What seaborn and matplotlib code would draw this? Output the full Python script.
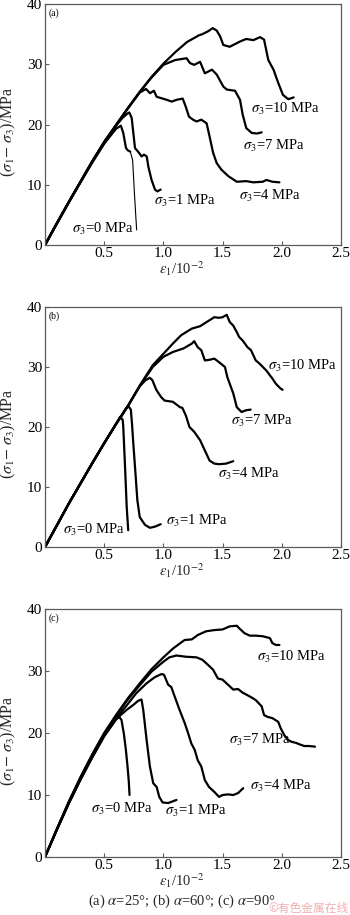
import matplotlib
matplotlib.use("Agg")
import matplotlib.pyplot as plt
import seaborn as sns

# ---------------- data ----------------
X_TICKS = [0, 0.5, 1.0, 1.5, 2.0, 2.5]
X_TICK_LABELS = ["", "0.5", "1.0", "1.5", "2.0", "2.5"]
Y_TICKS = [0, 10, 20, 30, 40]
Y_TICK_LABELS = ["0", "10", "20", "30", "40"]
PANEL_TAGS = ["(a)", "(b)", "(c)"]
CURVE_NAMES = ["0", "1", "4", "7", "10"]
CAPTION = "(a) $\\alpha$=25°; (b) $\\alpha$=60°; (c) $\\alpha$=90°"

# panel (a)  alpha = 25 deg
a_s0_x = [0, 0.1, 0.2, 0.3, 0.4, 0.5, 0.6, 0.641, 0.661, 0.684, 0.70, 0.72, 0.74, 0.757, 0.774]
a_s0_y = [0, 3.5, 7.0, 10.4, 13.7, 16.8, 19.3, 19.8, 18.6, 16.1, 15.7, 15.5, 14.1, 8.0, 2.5]
a_s1_x = [0, 0.1, 0.2, 0.3, 0.4, 0.5, 0.6, 0.65, 0.695, 0.712, 0.732, 0.746, 0.76, 0.794, 0.816,
          0.836, 0.859, 0.873, 0.90, 0.929, 0.949, 0.977]
a_s1_y = [0, 3.6, 7.1, 10.5, 13.9, 17.0, 19.8, 21.0, 21.8, 22.0, 21.1, 18.6, 16.1, 15.3, 14.7,
          15.0, 14.7, 13.0, 10.8, 9.2, 8.9, 9.2]
a_s4_x = [0, 0.1, 0.2, 0.3, 0.4, 0.5, 0.6, 0.7, 0.8, 0.853, 0.887, 0.92, 0.943, 0.977, 1.028,
          1.07, 1.112, 1.163, 1.188, 1.216, 1.25, 1.28, 1.32, 1.365, 1.39, 1.42, 1.45, 1.49,
          1.55, 1.62, 1.70, 1.76, 1.84, 1.87, 1.92, 1.98]
a_s4_y = [0, 3.6, 7.1, 10.5, 13.9, 17.1, 19.9, 22.7, 25.3, 25.9, 25.2, 25.6, 24.6, 24.4, 24.1,
          23.8, 24.1, 24.3, 23.0, 21.3, 20.8, 20.5, 20.8, 20.2, 18.0, 15.3, 13.6, 12.5,
          11.4, 10.5, 10.6, 10.4, 10.5, 10.8, 10.5, 10.4]
a_s7_x = [0, 0.1, 0.2, 0.3, 0.4, 0.5, 0.6, 0.7, 0.8, 0.9, 1.0, 1.1, 1.196, 1.224, 1.26, 1.31,
          1.35, 1.41, 1.45, 1.506, 1.535, 1.605, 1.647, 1.67, 1.70, 1.746, 1.79, 1.83]
a_s7_y = [0, 3.6, 7.1, 10.5, 13.9, 17.1, 19.9, 22.7, 25.4, 27.8, 29.9, 30.7, 31.0, 30.2, 29.9, 30.4,
          28.5, 29.1, 28.3, 26.3, 25.8, 25.6, 24.1, 21.6, 19.4, 18.6, 18.5, 18.7]
a_s10_x = [0, 0.1, 0.2, 0.3, 0.4, 0.5, 0.6, 0.7, 0.8, 0.9, 1.0, 1.1, 1.2, 1.3, 1.33, 1.38, 1.416,
           1.45, 1.48, 1.506, 1.56, 1.60, 1.65, 1.70, 1.76, 1.816, 1.85, 1.886, 1.93, 1.97,
           2.01, 2.055, 2.10]
a_s10_y = [0, 3.6, 7.1, 10.5, 13.9, 17.1, 19.9, 22.7, 25.4, 27.9, 30.1, 32.0, 33.7, 34.8, 35.0, 35.5,
           36.0, 35.6, 34.6, 33.2, 32.9, 33.3, 33.8, 34.2, 34.0, 34.5, 34.1, 30.7, 29.1, 26.9,
           24.9, 24.2, 24.5]

# panel (b)  alpha = 60 deg
b_s0_x = [0, 0.1, 0.2, 0.3, 0.4, 0.5, 0.6, 0.635, 0.656, 0.661, 0.676, 0.69, 0.703]
b_s0_y = [0, 3.6, 7.2, 10.6, 14.0, 17.3, 20.5, 21.7, 21.2, 20.1, 13.4, 6.7, 2.8]
b_s1_x = [0, 0.1, 0.2, 0.3, 0.4, 0.5, 0.6, 0.65, 0.68, 0.703, 0.725, 0.735, 0.745, 0.76, 0.78,
          0.80, 0.844, 0.886, 0.93, 0.977]
b_s1_y = [0, 3.6, 7.2, 10.6, 14.0, 17.3, 20.5, 22.0, 23.0, 23.5, 22.9, 20.5, 17.5, 13.4, 7.8,
          5.0, 3.7, 3.2, 3.4, 3.8]
b_s4_x = [0, 0.1, 0.2, 0.3, 0.4, 0.5, 0.6, 0.7, 0.8, 0.85, 0.885, 0.907, 0.94, 0.98, 1.01, 1.08,
          1.14, 1.16, 1.19, 1.22, 1.26, 1.31, 1.35, 1.39, 1.43, 1.47, 1.53, 1.59]
b_s4_y = [0, 3.6, 7.2, 10.6, 14.0, 17.3, 20.5, 23.5, 26.8, 27.8, 28.2, 27.8, 26.2, 25.0, 24.4, 24.2,
          23.3, 23.2, 21.9, 20.0, 19.2, 17.8, 16.1, 14.4, 13.9, 13.8, 13.9, 14.3]
b_s7_x = [0, 0.1, 0.2, 0.3, 0.4, 0.5, 0.6, 0.7, 0.8, 0.91, 1.0, 1.08, 1.17, 1.24, 1.26, 1.29,
          1.32, 1.35, 1.39, 1.43, 1.47, 1.52, 1.54, 1.59, 1.62, 1.66, 1.70, 1.737]
b_s7_y = [0, 3.6, 7.2, 10.6, 14.0, 17.3, 20.5, 23.5, 26.8, 30.0, 31.7, 32.5, 33.1, 33.9, 34.3, 33.3,
          32.8, 31.1, 31.2, 31.4, 30.8, 30.0, 28.3, 25.6, 23.3, 22.5, 22.8, 22.9]
b_s10_x = [0, 0.1, 0.2, 0.3, 0.4, 0.5, 0.6, 0.7, 0.8, 0.91, 1.0, 1.08, 1.15, 1.24, 1.31, 1.39,
           1.43, 1.47, 1.50, 1.535, 1.56, 1.59, 1.62, 1.64, 1.67, 1.71, 1.74, 1.78, 1.81, 1.84,
           1.87, 1.90, 1.92, 1.95, 1.99, 2.007]
b_s10_y = [0, 3.6, 7.2, 10.6, 14.0, 17.3, 20.5, 23.5, 26.9, 30.3, 32.2, 33.9, 35.3, 36.4, 36.8, 37.8,
           38.3, 38.2, 38.3, 38.7, 37.5, 36.9, 35.8, 35.0, 34.4, 33.3, 32.8, 31.1, 30.6, 30.0,
           29.4, 28.6, 28.1, 27.2, 26.4, 26.2]

# panel (c)  alpha = 90 deg
c_s0_x = [0, 0.1, 0.2, 0.3, 0.4, 0.5, 0.6, 0.627, 0.646, 0.666, 0.683, 0.697, 0.708, 0.714]
c_s0_y = [0, 4.4, 8.6, 12.5, 16.1, 19.5, 22.2, 22.6, 22.1, 19.9, 17.3, 14.6, 12.1, 10.0]
c_s1_x = [0, 0.1, 0.2, 0.3, 0.4, 0.5, 0.6, 0.627, 0.688, 0.744, 0.787, 0.815, 0.83, 0.858, 0.886,
          0.914, 0.943, 0.965, 0.993, 1.04, 1.11]
c_s1_y = [0, 4.4, 8.6, 12.5, 16.1, 19.5, 22.2, 22.7, 23.7, 24.5, 25.2, 25.4, 23.7, 18.9, 14.6,
          11.9, 11.3, 9.7, 8.8, 8.7, 9.2]
c_s4_x = [0, 0.1, 0.2, 0.3, 0.4, 0.5, 0.6, 0.688, 0.77, 0.857, 0.927, 0.983, 1.005, 1.04, 1.067,
          1.095, 1.137, 1.18, 1.21, 1.236, 1.264, 1.29, 1.32, 1.35, 1.385, 1.43, 1.47, 1.50,
          1.545, 1.59, 1.63, 1.674]
c_s4_y = [0, 4.4, 8.7, 12.6, 16.2, 19.6, 22.4, 24.4, 26.4, 28.0, 29.0, 29.5, 29.4, 27.8, 27.4,
          25.9, 23.7, 21.6, 19.9, 18.3, 17.3, 15.6, 14.6, 12.4, 11.3, 10.5, 9.7, 10.0,
          10.1, 10.0, 10.3, 11.1]
c_s7_x = [0, 0.1, 0.2, 0.3, 0.4, 0.5, 0.6, 0.7, 0.8, 0.9, 1.0, 1.05, 1.11, 1.19, 1.28, 1.33,
          1.376, 1.42, 1.46, 1.50, 1.545, 1.59, 1.63, 1.67, 1.71, 1.756, 1.78, 1.83, 1.85,
          1.88, 1.92, 1.97, 1.99, 2.02, 2.05, 2.08, 2.12, 2.16, 2.19, 2.23, 2.28]
c_s7_y = [0, 4.5, 8.8, 12.8, 16.5, 19.9, 22.8, 25.4, 27.7, 29.9, 31.5, 32.2, 32.5, 32.3, 32.2, 31.8,
          31.0, 30.2, 28.8, 28.6, 27.8, 27.0, 27.1, 26.5, 26.1, 25.6, 25.3, 24.3, 22.9,
          22.6, 22.4, 21.8, 20.8, 19.7, 18.9, 18.6, 18.4, 18.1, 17.9, 17.9, 17.8]
c_s10_x = [0, 0.1, 0.2, 0.3, 0.4, 0.5, 0.6, 0.7, 0.8, 0.9, 1.0, 1.08, 1.15, 1.18, 1.24, 1.29,
           1.36, 1.43, 1.50, 1.56, 1.62, 1.64, 1.685, 1.73, 1.78, 1.84, 1.90, 1.92, 1.95, 1.98]
c_s10_y = [0, 4.5, 8.9, 12.9, 16.6, 20.0, 22.9, 25.6, 28.0, 30.3, 32.2, 33.6, 34.6, 35.0, 35.1, 35.8,
           36.4, 36.6, 36.7, 37.2, 37.3, 36.9, 36.1, 35.7, 35.7, 35.6, 35.3, 34.5, 34.2, 34.2]

# label anchor points (data coords) for each curve label
a_lab_x = [0.225, 0.92, 1.64, 1.67, 1.74]
a_lab_y = [2.7, 7.3, 8.1, 16.4, 22.5]
b_lab_x = [0.155, 1.02, 1.46, 1.57, 1.88]
b_lab_y = [2.9, 4.4, 12.1, 21.0, 30.1]
c_lab_x = [0.39, 1.01, 1.73, 1.55, 1.79]
c_lab_y = [7.8, 7.4, 11.4, 18.8, 32.2]

# ---------------- styling ----------------
sns.set_theme(style="ticks")
plt.rcParams["font.family"] = ["Liberation Serif", "DejaVu Serif"]
plt.rcParams["mathtext.fontset"] = "stix"
plt.rcParams["axes.edgecolor"] = "#5a5a5a"
plt.rcParams["axes.linewidth"] = 0.9

fig = plt.figure(figsize=(3.5, 9.15), dpi=100)
W, H = 350.0, 915.0
# axes pixel boxes: left, top, right, bottom
boxes = [(45, 4, 341, 245), (45, 307, 341, 547), (45, 609, 341, 857)]

panels = [
    ([(a_s0_x, a_s0_y), (a_s1_x, a_s1_y), (a_s4_x, a_s4_y), (a_s7_x, a_s7_y), (a_s10_x, a_s10_y)],
     a_lab_x, a_lab_y),
    ([(b_s0_x, b_s0_y), (b_s1_x, b_s1_y), (b_s4_x, b_s4_y), (b_s7_x, b_s7_y), (b_s10_x, b_s10_y)],
     b_lab_x, b_lab_y),
    ([(c_s0_x, c_s0_y), (c_s1_x, c_s1_y), (c_s4_x, c_s4_y), (c_s7_x, c_s7_y), (c_s10_x, c_s10_y)],
     c_lab_x, c_lab_y),
]

LW = 1.6
for pi, ((l, t, r, b), (curves, lx, ly)) in enumerate(zip(boxes, panels)):
    ax = fig.add_axes([l / W, 1 - b / H, (r - l) / W, (b - t) / H])
    for ci, (xs, ys) in enumerate(curves):
        if pi == 0 and ci == 0:
            # thick part, then thin final drop
            sns.lineplot(x=xs[:12], y=ys[:12], ax=ax, color="black", lw=LW,
                         sort=False, estimator=None)
            sns.lineplot(x=xs[11:], y=ys[11:], ax=ax, color="black", lw=0.8,
                         sort=False, estimator=None)
        else:
            sns.lineplot(x=xs, y=ys, ax=ax, color="black", lw=LW,
                         sort=False, estimator=None)
    for name, x0, y0 in zip(CURVE_NAMES, lx, ly):
        ax.text(x0, y0, "$\\sigma_3$=" + name + " MPa", ha="left", va="center",
                fontsize=10.5, color="black")
    ax.text(0.034, 38.5, PANEL_TAGS[pi], ha="left", va="center", fontsize=7, color="black")

    ax.set_xlim(0, 2.5)
    ax.set_ylim(0, 40)
    ax.set_xticks(X_TICKS)
    ax.set_xticklabels(X_TICK_LABELS)
    ax.set_yticks(Y_TICKS)
    ax.set_yticklabels(Y_TICK_LABELS)
    ax.tick_params(direction="in", length=3, width=0.8, colors="#5a5a5a",
                   labelcolor="black", labelsize=11, pad=2)
    ax.tick_params(axis="x", pad=1.5)
    ax.set_xlabel("")
    ax.set_ylabel("")
    ax.text(0.463, -0.097, "$\\varepsilon_1$/10$^{-2}$", transform=ax.transAxes,
            ha="center", va="center", fontsize=10.5)
    ax.text(-0.125, 0.47, "($\\sigma_1$$-$ $\\sigma_3$)/MPa", transform=ax.transAxes,
            ha="center", va="center", rotation=90, fontsize=11.5)
    for s in ax.spines.values():
        s.set_visible(True)

fig.text(182 / W, 1 - 901 / H, CAPTION, ha="center", va="center", fontsize=10.5)
fig.text(349 / W, 1 - 908 / H, "©有色金属在线", ha="right", va="center", fontsize=8.5,
         color="#f2b0b0", family=["Noto Sans CJK SC", "DejaVu Sans"])

fig.savefig("out.png", dpi=100)
